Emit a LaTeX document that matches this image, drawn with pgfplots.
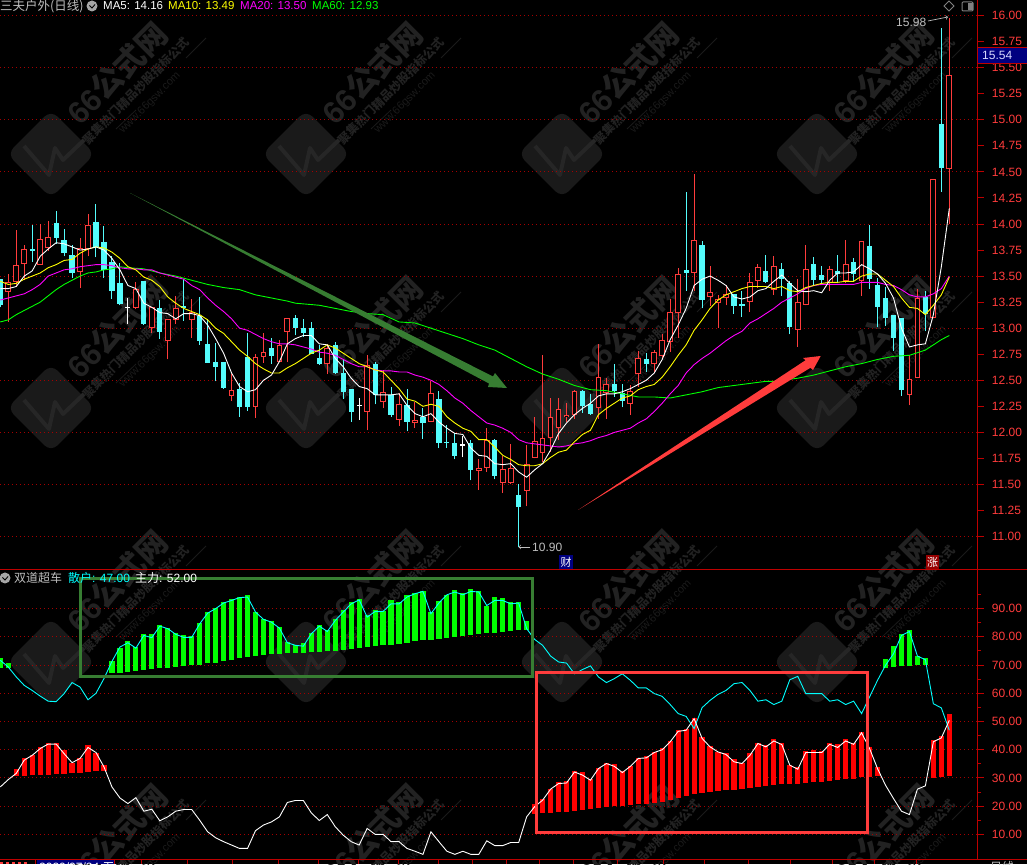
\documentclass[border=0pt]{standalone}
\usepackage{fontspec}
\setmainfont{Liberation Sans}
\newfontfamily\cjk{Noto Sans CJK SC}
\usepackage{pgfplots}
\usepackage{pgfplotstable}
\pgfplotsset{compat=1.18}
\definecolor{cy}{RGB}{84,252,252}
\definecolor{cr}{RGB}{255,60,60}
\definecolor{axr}{RGB}{190,0,0}
\definecolor{grd}{RGB}{165,0,0}
\definecolor{txr}{RGB}{255,60,60}
\definecolor{gry}{RGB}{190,190,190}
\definecolor{wm}{RGB}{26,26,26}
\definecolor{wmb}{RGB}{38,38,38}
\definecolor{wmt}{RGB}{34,34,34}
\definecolor{garr}{RGB}{55,125,50}
\definecolor{mgn}{RGB}{255,0,255}
\definecolor{cyn}{RGB}{0,255,255}
\definecolor{yel}{RGB}{255,255,0}
\definecolor{grn}{RGB}{0,255,0}
\definecolor{rdd}{RGB}{255,0,0}
\definecolor{blu}{RGB}{0,0,128}
\definecolor{rdb}{RGB}{150,0,0}

\pgfplotstableread{
i low bl bh high
0 13.20 13.22 13.47 13.47
4 13.64 13.75 13.76 13.99
7 13.81 13.87 14.01 14.12
8 13.69 13.72 13.85 13.95
9 13.48 13.53 13.70 13.80
12 13.68 13.78 14.02 14.19
13 13.48 13.56 13.83 13.98
14 13.28 13.36 13.64 13.69
15 13.22 13.23 13.43 13.63
18 13.03 13.04 13.45 13.45
20 12.90 12.96 13.19 13.27
23 13.07 13.19 13.21 13.47
25 12.84 12.88 13.12 13.30
26 12.67 12.67 12.85 13.09
27 12.49 12.63 12.68 12.86
28 12.42 12.43 12.68 12.68
30 12.15 12.24 12.42 12.47
31 12.21 12.24 12.72 12.95
34 12.66 12.73 12.81 12.91
37 12.93 13.00 13.10 13.13
38 12.92 12.95 13.00 13.09
39 12.75 12.75 13.00 13.06
40 12.65 12.66 12.71 12.84
42 12.56 12.57 12.84 12.87
43 12.32 12.39 12.57 12.70
44 12.10 12.20 12.42 12.42
47 12.27 12.36 12.66 12.68
49 12.15 12.17 12.36 12.44
51 12.01 12.10 12.26 12.42
53 11.94 12.09 12.15 12.23
55 11.85 11.90 12.32 12.40
56 11.85 11.90 11.91 12.07
57 11.74 11.77 11.90 11.99
59 11.54 11.64 11.90 11.93
62 11.55 11.58 11.93 11.94
65 10.90 11.28 11.40 11.50
73 12.19 12.25 12.40 12.41
74 12.17 12.18 12.27 12.37
77 12.34 12.40 12.46 12.66
78 12.24 12.30 12.38 12.46
81 12.58 12.66 12.70 12.76
86 13.36 13.53 13.56 14.31
88 13.19 13.27 13.80 13.84
92 13.14 13.21 13.33 13.33
93 13.11 13.21 13.23 13.36
96 13.43 13.44 13.55 13.70
98 13.31 13.47 13.57 13.63
99 12.94 13.01 13.43 13.45
102 13.41 13.46 13.62 13.68
103 13.41 13.46 13.51 13.60
105 13.43 13.52 13.55 13.70
107 13.45 13.52 13.64 13.67
109 13.38 13.47 13.79 13.99
110 13.01 13.20 13.41 13.48
111 13.02 13.10 13.29 13.40
112 12.78 12.91 13.13 13.13
113 12.35 12.41 13.10 13.10
116 12.97 13.14 13.30 13.36
118 14.31 14.54 14.96 15.88
}\cyanT

\pgfplotstableread{
i low bl bh high
1 13.06 13.35 13.44 13.52
2 13.40 13.44 13.61 13.94
3 13.46 13.62 13.76 13.80
5 13.61 13.61 13.86 14.00
6 13.74 13.77 13.88 14.03
10 13.39 13.54 13.77 13.87
11 13.69 13.76 13.99 14.10
17 13.18 13.19 13.38 13.44
19 12.95 13.00 13.20 13.20
21 12.70 12.88 13.09 13.09
22 13.04 13.08 13.19 13.31
24 12.91 13.08 13.16 13.28
29 12.30 12.35 12.41 12.56
32 12.14 12.24 12.72 12.75
33 12.67 12.72 12.77 12.95
35 12.68 12.68 12.84 12.89
36 12.68 12.96 13.10 13.10
41 12.56 12.66 12.81 12.85
46 12.02 12.20 12.65 12.74
48 12.23 12.29 12.39 12.60
50 12.06 12.12 12.27 12.38
52 12.04 12.09 12.12 12.29
54 12.10 12.10 12.38 12.49
60 11.45 11.63 11.66 11.74
61 11.62 11.66 11.93 12.04
63 11.42 11.51 11.65 11.77
64 11.50 11.51 11.66 11.89
66 11.29 11.44 11.70 11.88
67 11.75 11.75 11.92 12.15
68 11.72 11.80 11.95 12.74
69 11.81 11.95 12.15 12.33
70 11.93 12.04 12.22 12.33
71 12.10 12.15 12.17 12.28
72 12.13 12.17 12.40 12.41
75 12.13 12.23 12.53 12.85
76 12.13 12.38 12.46 12.52
79 12.17 12.27 12.40 12.45
80 12.44 12.56 12.71 12.78
82 12.57 12.66 12.77 12.79
83 12.70 12.73 12.89 12.94
84 12.77 12.87 13.16 13.28
85 12.91 13.15 13.52 13.58
87 13.36 13.53 13.85 14.48
89 13.21 13.30 13.35 13.60
90 13.00 13.24 13.28 13.32
91 13.22 13.29 13.33 13.41
94 13.16 13.25 13.44 13.53
95 13.39 13.45 13.59 13.62
97 13.32 13.37 13.60 13.69
100 12.82 12.98 13.25 13.47
101 13.22 13.22 13.57 13.80
104 13.36 13.43 13.57 13.60
106 13.43 13.45 13.62 13.85
108 13.31 13.45 13.84 13.84
114 12.26 12.36 12.51 12.74
115 12.52 12.52 13.29 13.38
117 13.10 13.10 14.43 14.43
119 14.00 14.53 15.43 15.98
}\redT

\pgfplotstableread{
i low bl bh high
16 13.04 13.195 13.205 13.29
45 12.12 12.255 12.265 12.33
58 11.76 11.875 11.885 11.97
}\whiteT

\pgfplotstableread{
i ma5 ma10 ma20
0 13.38 13.45 13.27
1 13.38 13.42 13.29
2 13.40 13.43 13.31
3 13.50 13.47 13.33
4 13.55 13.50 13.37
5 13.69 13.53 13.42
6 13.76 13.58 13.50
7 13.82 13.61 13.53
8 13.81 13.65 13.56
9 13.78 13.66 13.57
10 13.75 13.72 13.59
11 13.76 13.76 13.60
12 13.78 13.78 13.61
13 13.75 13.77 13.61
14 13.67 13.73 13.60
15 13.56 13.67 13.58
16 13.41 13.59 13.57
17 13.38 13.56 13.57
18 13.24 13.49 13.56
19 13.20 13.46 13.56
20 13.15 13.40 13.53
21 13.14 13.30 13.51
22 13.09 13.24 13.49
23 13.14 13.19 13.47
24 13.14 13.16 13.41
25 13.12 13.13 13.37
26 13.03 13.08 13.29
27 12.90 13.00 13.22
28 12.76 12.95 13.16
29 12.57 12.87 13.09
30 12.44 12.79 13.00
31 12.39 12.73 12.98
32 12.41 12.66 12.94
33 12.50 12.61 12.90
34 12.55 12.57 12.87
35 12.68 12.57 12.85
36 12.85 12.62 12.85
37 12.90 12.66 12.84
38 12.93 12.71 12.82
39 12.93 12.76 12.80
40 12.85 12.79 12.77
41 12.84 12.84 12.76
42 12.71 12.81 12.74
43 12.63 12.76 12.70
44 12.52 12.71 12.66
45 12.44 12.66 12.63
46 12.42 12.63 12.63
47 12.36 12.60 12.60
48 12.36 12.58 12.59
49 12.36 12.50 12.59
50 12.37 12.42 12.58
51 12.26 12.32 12.58
52 12.18 12.30 12.55
53 12.15 12.25 12.53
54 12.18 12.27 12.50
55 12.10 12.25 12.46
56 12.04 12.15 12.40
57 11.99 12.09 12.33
58 11.98 12.04 12.28
59 11.85 12.01 12.21
60 11.78 11.93 12.15
61 11.77 11.93 12.09
62 11.70 11.86 12.07
63 11.69 11.78 12.04
64 11.70 11.74 12.00
65 11.62 11.69 11.93
66 11.57 11.68 11.90
67 11.64 11.68 11.89
68 11.70 11.70 11.88
69 11.83 11.76 11.87
70 11.99 11.81 11.86
71 12.09 11.83 11.87
72 12.17 11.91 11.89
73 12.23 11.98 11.90
74 12.28 12.02 11.92
75 12.35 12.17 11.95
76 12.37 12.23 11.97
77 12.37 12.28 12.00
78 12.39 12.33 12.02
79 12.42 12.35 12.04
80 12.46 12.41 12.09
81 12.50 12.44 12.13
82 12.57 12.46 12.20
83 12.70 12.53 12.28
84 12.89 12.63 12.37
85 13.03 12.74 12.45
86 13.19 12.84 12.57
87 13.41 12.98 12.65
88 13.47 13.08 12.71
89 13.50 13.19 12.76
90 13.46 13.27 12.82
91 13.41 13.32 12.88
92 13.30 13.35 12.93
93 13.28 13.38 12.97
94 13.30 13.40 13.05
95 13.36 13.40 13.09
96 13.38 13.40 13.14
97 13.45 13.38 13.19
98 13.51 13.40 13.25
99 13.43 13.36 13.29
100 13.36 13.35 13.33
101 13.35 13.39 13.38
102 13.36 13.41 13.41
103 13.34 13.43 13.42
104 13.46 13.44 13.42
105 13.53 13.44 13.42
106 13.53 13.45 13.42
107 13.54 13.45 13.42
108 13.61 13.50 13.44
109 13.57 13.52 13.44
110 13.52 13.52 13.44
111 13.43 13.46 13.42
112 13.29 13.40 13.41
113 13.00 13.29 13.37
114 12.82 13.20 13.32
115 12.84 13.19 13.30
116 12.85 13.13 13.30
117 13.13 13.22 13.33
118 13.59 13.32 13.38
119 14.15 13.49 13.50
}\maT

\pgfplotstableread{
i ma60
0 13.06
1 13.08
2 13.13
3 13.17
4 13.21
5 13.25
6 13.31
7 13.37
8 13.42
9 13.46
10 13.50
11 13.53
12 13.54
13 13.56
14 13.57
15 13.59
16 13.58
18 13.57
20 13.53
22 13.50
24 13.46
26 13.42
28 13.39
30 13.37
32 13.32
34 13.29
36 13.26
37 13.24
40 13.22
42 13.19
44 13.16
46 13.14
48 13.13
50 13.06
52 13.05
54 13.00
56 12.95
58 12.90
60 12.84
62 12.79
64 12.71
66 12.63
68 12.56
70 12.51
72 12.45
74 12.41
76 12.40
78 12.37
80 12.34
82 12.34
84 12.33
86 12.36
88 12.39
90 12.43
92 12.45
94 12.47
96 12.49
97 12.49
100 12.52
102 12.55
104 12.59
106 12.63
108 12.66
110 12.70
112 12.73
114 12.74
116 12.79
117 12.84
118 12.89
119 12.93
}\maLX

\pgfplotstableread{
i san zhu
0 71.7 26.8
1 69.3 29.4
2 65.8 31.6
3 62.8 36.3
4 61.0 38.0
5 59.0 40.4
6 57.2 42.0
7 57.0 42.0
8 59.9 38.6
9 63.8 35.4
10 62.2 36.9
11 57.7 40.8
12 60.0 39.0
13 65.2 33.9
14 71.3 26.8
15 76.4 22.9
16 77.9 20.9
17 76.0 23.0
18 80.5 18.2
19 79.7 18.9
20 83.8 14.8
21 82.9 16.2
22 80.9 18.2
23 79.8 18.8
24 79.8 18.8
25 84.6 15.0
26 88.4 10.9
27 90.0 8.8
28 92.0 7.4
29 92.9 6.2
30 93.9 5.0
31 94.1 5.0
32 88.8 11.3
33 86.2 13.3
34 85.2 14.4
35 83.1 16.2
36 77.9 21.3
37 77.0 22.0
38 76.7 22.0
39 81.1 17.6
40 83.8 14.9
41 81.9 17.0
42 85.8 12.7
43 88.8 9.7
44 91.7 7.4
45 93.1 6.2
46 87.0 12.1
47 89.0 10.0
48 89.0 10.0
49 91.7 7.4
50 91.7 7.4
51 94.1 5.0
52 95.3 4.0
53 96.1 2.9
54 88.2 10.9
55 92.0 7.4
56 94.9 4.0
57 95.9 2.9
58 94.9 4.0
59 96.1 2.9
60 95.9 2.9
61 91.1 7.7
62 92.9 6.0
63 92.9 6.0
64 91.7 7.1
65 92.0 7.1
66 82.9 16.2
67 79.1 19.8
68 77.0 22.1
69 73.2 26.0
70 71.1 28.0
71 70.7 28.2
72 66.9 32.1
73 68.4 31.0
74 69.7 29.2
75 65.8 33.3
76 63.8 35.1
77 65.2 34.1
78 66.9 31.9
79 64.6 34.1
80 61.9 36.9
81 61.9 37.1
82 59.9 39.0
83 58.9 40.0
84 56.0 42.8
85 52.8 46.5
86 51.8 46.9
87 47.5 51.0
88 54.9 44.0
89 57.5 41.0
90 59.6 39.2
91 61.0 38.3
92 63.4 35.7
93 63.8 35.1
94 61.0 38.0
95 57.2 42.2
96 57.7 41.0
97 56.0 43.1
98 57.2 41.8
99 64.8 34.5
100 66.0 33.1
101 59.9 39.0
102 59.9 39.0
103 59.9 39.0
104 57.2 41.9
105 57.7 40.8
106 56.0 43.1
107 57.2 41.9
108 52.8 46.0
109 58.7 40.4
110 64.6 33.3
111 69.9 27.4
112 74.0 22.7
113 80.5 18.2
114 81.9 17.0
115 73.2 26.0
116 71.9 27.2
117 56.3 42.8
118 54.8 44.2
119 46.9 50.4
}\lowT

\pgfplotstableread{
i bl bh
0 69.0 72.6
1 69.0 70.6
14 67.2 71.3
15 67.3 76.0
16 67.5 78.7
17 67.8 76.4
18 68.1 80.9
19 68.5 80.9
20 68.8 84.1
21 69.0 83.2
22 69.3 81.3
23 69.5 80.5
24 69.9 80.3
25 69.9 84.8
26 70.6 88.7
27 70.8 90.3
28 71.3 92.2
29 71.7 93.3
30 72.4 94.0
31 72.7 94.7
32 73.1 88.7
33 73.4 86.2
34 73.8 85.5
35 74.0 83.4
36 74.2 78.0
37 74.2 77.0
38 74.2 77.7
39 74.5 81.2
40 74.6 84.1
41 74.9 82.3
42 74.9 86.2
43 75.2 89.4
44 75.6 92.2
45 75.9 93.3
46 76.3 87.6
47 76.6 89.4
48 77.0 89.0
49 77.0 92.9
50 77.3 92.2
51 77.7 94.7
52 78.4 95.7
53 78.8 96.1
54 78.8 88.7
55 79.1 92.6
56 79.5 95.0
57 79.8 96.5
58 80.2 95.7
59 80.5 96.8
60 80.9 96.1
61 81.2 91.1
62 81.2 94.0
63 81.6 93.6
64 81.9 92.2
65 82.3 92.2
66 82.3 85.5
111 68.8 72.0
112 69.2 76.6
113 69.5 80.9
114 69.5 82.6
115 69.9 73.1
116 69.9 72.4
}\grnBar

\pgfplotstableread{
i bl bh
2 30.6 33.1
3 30.7 36.9
4 31.0 38.0
5 31.0 40.8
6 31.2 42.2
7 31.5 42.2
8 31.5 40.0
9 31.7 35.4
10 31.9 36.9
11 32.1 41.6
12 32.4 39.0
13 32.4 34.5
67 17.3 20.8
68 17.5 22.7
69 17.5 26.0
70 17.9 28.5
71 17.9 28.8
72 18.2 32.4
73 18.6 32.0
74 19.0 29.5
75 19.3 33.4
76 19.6 35.2
77 20.0 34.9
78 20.0 32.4
79 20.3 34.1
80 20.7 37.0
81 20.7 37.7
82 21.0 39.1
83 21.4 40.5
84 22.1 43.0
85 22.8 46.9
86 23.5 47.2
87 24.2 51.1
88 24.6 44.4
89 24.9 41.2
90 25.3 39.1
91 25.7 38.8
92 25.7 36.6
93 26.0 35.2
94 26.4 38.8
95 26.7 42.3
96 27.1 41.6
97 27.4 43.7
98 27.8 42.3
99 27.8 34.5
100 27.8 33.8
101 28.1 39.5
102 28.5 39.8
103 28.5 39.5
104 28.8 42.3
105 29.2 41.9
106 29.5 43.7
107 29.5 42.3
108 30.3 46.2
109 30.3 40.9
110 30.6 33.8
117 29.9 43.4
118 30.3 44.8
119 30.6 52.6
}\redBar

% one pixel of the image is one pt of the page
\newcommand\wick[2]{\addplot[draw=none, no markers, forget plot,
  error bars/.cd, y dir=plus, y explicit, error mark=none,
  error bar style={draw=#1, line width=1pt, solid}]
  table[x=i, y=low, y error plus expr=\thisrow{high}-\thisrow{low}] {#2};}
\newcommand\body[3]{\addplot[draw=none, no markers, forget plot,
  error bars/.cd, y dir=both, y explicit, error mark=none,
  error bar style={draw=#1, line width=#2, solid}]
  table[x=i, y expr=(\thisrow{bl}+\thisrow{bh})/2, y error expr=(\thisrow{bh}-\thisrow{bl})/2] {#3};}
\newcommand\hollow[3]{\addplot[draw=none, no markers, forget plot,
  error bars/.cd, y dir=both, y explicit, error mark=none,
  error bar style={draw=#1, line width=#2, solid}]
  table[x=i, y expr=(\thisrow{bl}+\thisrow{bh})/2, y error expr={max(0,(\thisrow{bh}-\thisrow{bl})/2-0.0096)}] {#3};}

\pgfplotsset{panel/.style={
  scale only axis, width=977.7pt, xmin=-0.0376, xmax=122.56,
  anchor=south west, axis x line=none, axis y line=right,
  axis line style={draw=axr, line width=1.4pt, -},
  tick style={draw=axr, line width=1pt},
  tick align=outside, major tick length=6pt, minor tick length=3.5pt,
  ticklabel style={font=\fontsize{12}{14}\selectfont, text=txr, inner sep=0pt},
  yticklabel style={/pgf/number format/.cd, fixed, fixed zerofill, precision=2, assume math mode=true},
  yticklabel shift=8pt,
  extra tick style={major tick length=0pt, grid=major,
     major grid style={draw=grd, line width=1pt, dash pattern=on 1pt off 3pt}},
  clip=true
}}

\newcommand\watermark[2]{%
 \begin{scope}[shift={(#1,#2)}]
  \fill[wm, rounded corners=9pt, rotate=45] (-31,-31) rectangle (31,31);
  \draw[wmb, line width=4pt, line join=round] (-27,-8) -- (-2,21) -- (4,-6) -- (12,6) -- (33,-14) ;
  \node[rotate=45, text=wmt] at (66,-81) {\fontsize{31}{33}\selectfont\bfseries 66\cjk 公式网};
  \node[rotate=45, text=wmt] at (85,-63) {\fontsize{12}{14}\selectfont\cjk\bfseries 聚集热门精品炒股指标公式};
  \node[rotate=45, text=wm] at (99,-51) {\fontsize{11}{13}\selectfont www.66gsw.com};
  \draw[wm, line width=.8pt] (65,-25) -- (85,-44);
  \draw[wm, line width=.8pt] (135,-96) -- (155,-116);
 \end{scope}}

\begin{document}
\begin{tikzpicture}[x=1pt,y=1pt]
\path[use as bounding box] (0,0) rectangle (1027,864);
\clip (0,0) rectangle (1027,864);
\fill[black] (0,0) rectangle (1027,864);

\begin{scope}[shift={(0,864)},y=-1pt]
 \foreach \yy in {154,408,662,916}{
  \foreach \xx in {51,306,562,817}{
    \watermark{\xx}{\yy}
  }}
\end{scope}

% price panel
\begin{axis}[panel, at={(0pt,294.7pt)}, height=569.3pt,
  ymin=10.686, ymax=16.15,
  ytick={11,11.25,11.5,11.75,12,12.25,12.5,12.75,13,13.25,13.5,13.75,14,14.25,14.5,14.75,15,15.25,15.5,15.75,16},
  extra y ticks={11,11.5,12,12.5,13,13.5,14,14.5,15,15.5,16},
  extra y tick labels={},
]
\wick{cy}{\cyanT}
\body{cy}{5.2pt}{\cyanT}
\wick{cr}{\redT}
\body{cr}{5.8pt}{\redT}
\hollow{black}{3.8pt}{\redT}
\wick{white}{\whiteT}
\body{white}{5.2pt}{\whiteT}
\addplot[grn, line width=.9pt, no marks] table[x=i,y=ma60] {\maLX};
\addplot[mgn, line width=.9pt, no marks] table[x=i,y=ma20] {\maT};
\addplot[yel, line width=.9pt, no marks] table[x=i,y=ma10] {\maT};
\addplot[white, line width=.9pt, no marks] table[x=i,y=ma5] {\maT};
\end{axis}

% indicator panel
\begin{axis}[panel, at={(0pt,4.7pt)}, height=289.6pt,
  ymin=1.15, ymax=103.8,
  ytick={10,20,30,40,50,60,70,80,90},
  minor ytick={15,25,35,45,55,65,75,85,95},
  extra y ticks={10,20,30,40,50,60,70,80,90},
  extra y tick labels={},
]
\body{grn}{5.2pt}{\grnBar}
\body{rdd}{5.2pt}{\redBar}
\addplot[cyn, line width=.9pt, no marks] table[x=i,y=san] {\lowT};
\addplot[white, line width=.9pt, no marks] table[x=i,y=zhu] {\lowT};
\end{axis}

\begin{scope}[shift={(0,864)},y=-1pt]
 % frame lines
 \draw[axr, line width=1pt] (0,569.5) -- (1027,569.5);
 \draw[axr, line width=1pt] (0,859.5) -- (1027,859.5);
 \draw[axr, line width=1.4pt] (977.7,0) -- (977.7,859.5);
 % arrows and boxes
 \fill[garr] (130,193) -- (493,376.5) -- (495,373) -- (507,388) -- (488,387) -- (489,383.5) -- cycle;
 \fill[cr] (578,510) -- (805.6,360.2) -- (803,358) -- (820.7,356) -- (813,370) -- (810.4,367.8) -- cycle;
 \draw[garr, line width=3pt] (80.5,579) rectangle (532,677);
 \draw[cr, line width=3pt] (536,672.5) rectangle (867,832);
 % header
 \node[anchor=west, inner sep=0pt, text=gry] at (0,6) {\fontsize{12.5}{14}\selectfont\cjk 三夫户外(日线)};
 \fill[gray!70] (92,6) circle (5.5);
 \draw[black, line width=.9pt] (89.5,5.5) -- (92,8) -- (95,4.5);
 \node[anchor=west, inner sep=0pt, text=white] at (103,6) {\fontsize{11.5}{14}\selectfont MA5: 14.16};
 \node[anchor=west, inner sep=0pt, text=yel] at (168,6) {\fontsize{11.5}{14}\selectfont MA10: 13.49};
 \node[anchor=west, inner sep=0pt, text=mgn] at (240,6) {\fontsize{11.5}{14}\selectfont MA20: 13.50};
 \node[anchor=west, inner sep=0pt, text=grn] at (312,6) {\fontsize{11.5}{14}\selectfont MA60: 12.93};
 % indicator header
 \fill[gray!70] (5,578) circle (5.5);
 \draw[black, line width=.9pt] (2.5,577.5) -- (5,580) -- (8,576.5);
 \node[anchor=west, inner sep=0pt, text=gry] at (14,578) {\fontsize{12}{14}\selectfont\cjk 双道超车};
 \node[anchor=west, inner sep=0pt, text=cyn] at (68,578) {\fontsize{12}{14}\selectfont{\cjk 散户}: 47.00};
 \node[anchor=west, inner sep=0pt, text=white] at (135,578) {\fontsize{12}{14}\selectfont{\cjk 主力}: 52.00};
 % icons
 \draw[gray, line width=.8pt] (949,1) -- (954,6) -- (949,11) -- (944,6) -- cycle;
 \draw[gray, line width=1pt, rounded corners=1pt] (962,2) rectangle (973,11);
 \fill[gray] (968,3) rectangle (972.5,10.5);
 % extreme labels
 \node[anchor=west, inner sep=0pt, text=gry] at (896,22) {\fontsize{12}{14}\selectfont 15.98};
 \draw[gry, line width=.7pt, ->, >=to] (928,21) -- (948,17);
 \node[anchor=west, inner sep=0pt, text=gry] at (532,547) {\fontsize{12}{14}\selectfont 10.90};
 \draw[gry, line width=.7pt, ->, >=to] (530,547) -- (518.5,547);
 % current price
 \fill[blu] (978,47.5) rectangle (1027,63.5);
 \draw[axr, line width=.8pt] (978,47.5) -- (1027,47.5) (978,63.5) -- (1027,63.5);
 \node[anchor=west, inner sep=0pt, text=white!85!blue] at (982,55.5) {\fontsize{12}{14}\selectfont 15.54};
 % badges
 \fill[blu] (559,555) rectangle (573,569);
 \node[inner sep=0pt, text=white] at (566,562) {\fontsize{11}{12}\selectfont\cjk 财};
 \fill[rdb] (926,555) rectangle (939,569);
 \node[inner sep=0pt, text=white] at (932.5,562) {\fontsize{11}{12}\selectfont\cjk 涨};
 % date strip
 \foreach \tx in {35,114,141,187,232,278,318,358,398,438,472,506,539,573,617,663,704,748,790,832,874,916}{
   \draw[axr, line width=.8pt] (\tx,859.5) -- (\tx,864);}
 \draw[cr, line width=1.2pt, dash pattern=on 3pt off 3pt] (0,863) -- (30,863);
 \fill[blu] (37,860) rectangle (114,864);
 \node[anchor=west, inner sep=0pt, text=white] at (39,867) {\fontsize{12}{14}\selectfont 2020/07/24 {\cjk 五}};
 \node[anchor=west, inner sep=0pt, text=gry] at (990,867) {\fontsize{12}{14}\selectfont\cjk 日线};
\end{scope}
\end{tikzpicture}
\end{document}
